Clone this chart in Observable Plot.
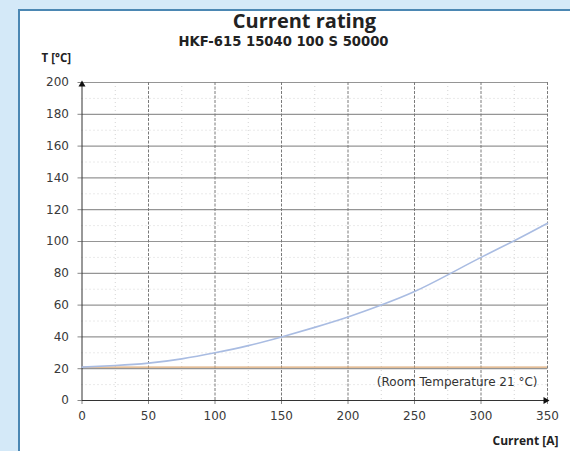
<!DOCTYPE html>
<html>
<head>
<meta charset="utf-8">
<script src="https://cdn.jsdelivr.net/npm/d3@7"></script>
<script src="https://cdn.jsdelivr.net/npm/@observablehq/plot@0.6"></script>
<style>
  html, body { margin: 0; padding: 0; background: #d4e9f8; }
  #wrap { position: relative; width: 570px; height: 451px; overflow: hidden; background: #d4e9f8; }
  #panel { position: absolute; left: 18px; top: 9px; right: 0; bottom: 0; background: #ffffff;
           border-left: 2px solid #4b87b3; border-top: 2px solid #4b87b3; }
  #chart { position: absolute; left: 0; top: 0; }
  #chart svg { display: block; }
</style>
</head>
<body>
<div id="wrap"><div id="panel"></div><div id="chart"></div></div>
<script>
const titleText = "Current rating";
const subtitleText = "HKF-615 15040 100 S 50000";
const yLabel = "T [°C]";
const xLabel = "Current [A]";
const roomLabel = "(Room Temperature 21 °C)";

const current = [0, 25, 50, 75, 100, 125, 150, 175, 200, 225, 250, 275, 300, 325, 350];
const temperature = [21, 22, 23.5, 26.2, 30, 34.5, 40, 46, 52.5, 60, 68.5, 79, 90, 100.5, 111.5];
const roomTemp = 21;

const xTicks = [0, 50, 100, 150, 200, 250, 300, 350];
const yTicks = [0, 20, 40, 60, 80, 100, 120, 140, 160, 180, 200];
const xMinor = [25, 75, 125, 175, 225, 275, 325];
const yMinor = [10, 30, 50, 70, 90, 110, 130, 150, 170, 190];

const data = current.map((c, i) => ({current: c, temp: temperature[i]}));

const ML = 81.5, MT = 82, MR = 23, MB = 51;

const chart = Plot.plot({
  width: 570,
  height: 451,
  marginLeft: ML,
  marginRight: MR,
  marginTop: MT,
  marginBottom: MB,
  style: {background: "transparent", fontFamily: "DejaVu Sans", fontSize: "12px", color: "#333"},
  x: {domain: [0, 350], axis: null},
  y: {domain: [0, 200], axis: null},
  marks: [
    Plot.gridY(yMinor, {stroke: "#d4d4d4", strokeOpacity: 1, strokeDasharray: "1,3"}),
    Plot.gridX(xMinor, {stroke: "#d4d4d4", strokeOpacity: 1, strokeDasharray: "1,3"}),
    Plot.gridY(yTicks.filter(v => v > 0), {stroke: "#959595", strokeOpacity: 1, strokeWidth: 1.2}),
    Plot.gridX(xTicks.filter(v => v > 0), {stroke: "#7a7a7a", strokeOpacity: 1, strokeDasharray: "3,1.5"}),
    Plot.axisY(yTicks, {tickSize: 4, tickPadding: 9, fontSize: 12, stroke: "#888", fill: "#3a3a3a"}),
    Plot.axisX(xTicks, {tickSize: 4, tickPadding: 7, fontSize: 12, stroke: "#888", fill: "#3a3a3a"}),
    Plot.ruleY([roomTemp], {stroke: "#dba874", strokeWidth: 1.2}),
    Plot.ruleX([0], {stroke: "#333", strokeWidth: 1}),
    Plot.ruleY([0], {stroke: "#333", strokeWidth: 1}),
    Plot.line(data, {x: "current", y: "temp", stroke: "#a9bce2", strokeWidth: 1.6, curve: "natural"}),
    Plot.dot([{x: 0, y: 200}], {x: "x", y: "y", symbol: "triangle", r: 2.6, fill: "#111", dy: 2}),
    Plot.dot([{x: 350, y: 0}], {x: "x", y: "y", symbol: "triangle", r: 2.6, fill: "#111", rotate: 90, dx: -2}),
    Plot.text([titleText], {text: d => d, frameAnchor: "top-left", dx: 304 - ML, dy: 21.5 - MT,
      textAnchor: "middle", lineAnchor: "middle", fontFamily: "Open Sans", fontWeight: "bold", fontSize: 20, fill: "#222"}),
    Plot.text([subtitleText], {text: d => d, frameAnchor: "top-left", dx: 283 - ML, dy: 41.5 - MT,
      textAnchor: "middle", lineAnchor: "middle", fontFamily: "DejaVu Sans", fontWeight: "bold", fontSize: 13.2, fill: "#222"}),
    Plot.text([yLabel], {text: d => d, frameAnchor: "top-left", dx: 41 - ML, dy: 58 - MT,
      textAnchor: "start", lineAnchor: "middle", fontFamily: "Open Sans", fontWeight: "bold", fontSize: 11.5, fill: "#222"}),
    Plot.text([xLabel], {text: d => d, frameAnchor: "bottom-right", dx: 11, dy: 41,
      textAnchor: "end", lineAnchor: "middle", fontFamily: "Open Sans", fontWeight: "bold", fontSize: 12, fill: "#222"}),
    Plot.text([roomLabel], {text: d => d, frameAnchor: "bottom-right", dx: -10, dy: -18.5,
      textAnchor: "end", lineAnchor: "middle", fontFamily: "DejaVu Sans", fontSize: 12, fill: "#333"})
  ]
});
document.getElementById("chart").appendChild(chart);
</script>
</body>
</html>
